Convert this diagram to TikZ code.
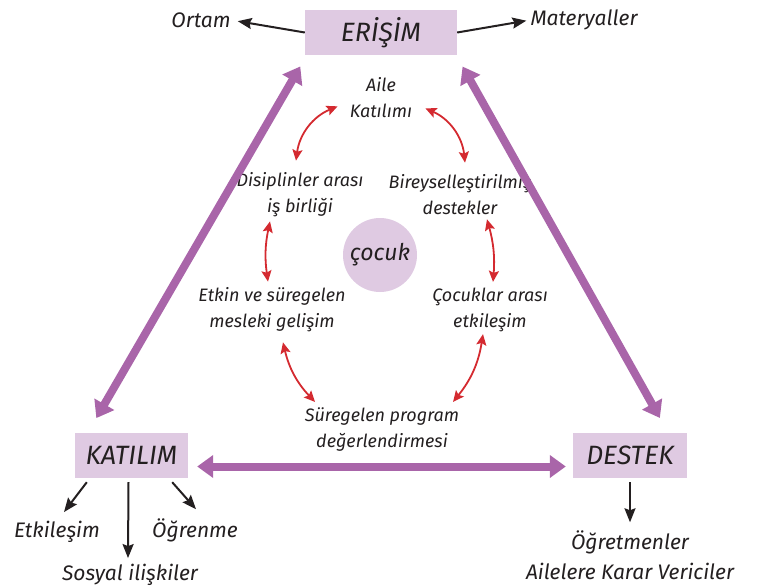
\documentclass[tikz,border=0pt]{standalone}
\usepackage{fontspec}
\setmainfont{Fira Sans}
\usetikzlibrary{arrows.meta}
\definecolor{boxfill}{HTML}{DFCAE2}
\definecolor{purline}{HTML}{A965A9}
\definecolor{redline}{HTML}{D42A30}
\definecolor{inktext}{HTML}{231F20}
\tikzset{
  box/.style={fill=boxfill, minimum height=45pt, inner sep=0pt, font=\fontsize{26.5}{30}\selectfont\itshape},
  txt/.style={inner sep=0pt, align=center, font=\fontsize{18}{26}\selectfont\itshape},
  lbl/.style={inner sep=0pt, align=center, font=\fontsize{21}{30}\selectfont\itshape},
  purarr/.style={purline, line width=8pt, {Triangle[length=16pt,width=22pt]}-{Triangle[length=16pt,width=22pt]}},
  redarr/.style={redline, line width=1.8pt, {Stealth[length=11pt,width=10pt,inset=2pt]}-{Stealth[length=11pt,width=10pt,inset=2pt]}},
  blkarr/.style={inktext, line width=2pt, -{Stealth[length=14pt,width=11pt,inset=2pt]}}
}
\begin{document}
\begin{tikzpicture}[x=1pt, y=-1pt, text=inktext]
  \useasboundingbox (0,0) rectangle (758,587);
  % main boxes
  \node[box, minimum width=152pt] (erisim) at (381,32.5) {ERİŞİM};
  \node[box, minimum width=113pt] (katilim) at (131.5,455.5) {KATILIM};
  \node[box, minimum width=114pt] (destek) at (630,455.5) {DESTEK};
  \node[circle, fill=boxfill, minimum size=74pt, inner sep=0pt, font=\fontsize{23}{26}\selectfont\itshape] (cocuk) at (380,255) {çocuk};
  % outer labels
  \node[lbl] (ortam) at (201,20) {Ortam};
  \node[lbl] (materyal) at (584,20) {Materyaller};
  \node[lbl] (etkilesim) at (57,532) {Etkileşim};
  \node[lbl] (sosyal) at (130,575) {Sosyal ilişkiler};
  \node[lbl] (ogrenme) at (195,530) {Öğrenme};
  \node[lbl] (ogretmen) at (630,555) {Öğretmenler\\Ailelere Karar Vericiler};
  % inner ring
  \node[txt] (aile) at (381,98) {Aile\\Katılımı};
  \node[txt] (disip) at (300,195) {Disiplinler arası\\iş birliği};
  \node[txt] (birey) at (460,195) {Bireyselleştirilmiş\\destekler};
  \node[txt] (etkin) at (272,310) {Etkin ve süregelen\\mesleki gelişim};
  \node[txt] (cocuklar) at (490,310) {Çocuklar arası\\etkileşim};
  \node[txt] (surege) at (382,430) {Süregelen program\\değerlendirmesi};
  % triangle
  \draw[purarr, shorten <=13pt, shorten >=17pt] ([xshift=2pt]erisim.south west) -- ([xshift=13pt]katilim.north west);
  \draw[purarr, shorten <=13pt, shorten >=17pt] ([xshift=-1pt]erisim.south east) -- ([xshift=-19pt]destek.north east);
  \draw[purarr, shorten <=9pt, shorten >=7pt] ([yshift=-11pt]katilim.east) -- ([yshift=-11pt]destek.west);
  % red links
  \draw[redarr] ([shift={(-12pt,12pt)}]aile.south west) to[bend right=30] ([shift={(-4pt,12pt)}]disip.north);
  \draw[redarr] ([shift={(13pt,10pt)}]aile.south east) to[bend left=30] ([shift={(5pt,12pt)}]birey.north);
  \draw[redarr] ([shift={(-30pt,-4pt)}]disip.south) to[bend right=10] ([shift={(-4pt,6pt)}]etkin.north);
  \draw[redarr] ([shift={(27pt,-4pt)}]birey.south) to[bend left=10] ([shift={(3pt,6pt)}]cocuklar.north);
  \draw[redarr] ([shift={(11pt,-10pt)}]etkin.south) to[bend right=15] ([shift={(-67pt,6pt)}]surege.north);
  \draw[redarr] ([shift={(-7pt,-2pt)}]cocuklar.south) to[bend left=15] ([shift={(71pt,6pt)}]surege.north);
  % black outputs
  \draw[blkarr, shorten >=7pt] (erisim.west) -- (ortam.east);
  \draw[blkarr, shorten >=4pt] (erisim.east) -- (materyal.west);
  \draw[blkarr] ([shift={(12pt,-4pt)}]katilim.south west) -- ([shift={(7pt,9pt)}]etkilesim.north);
  \draw[blkarr] ([shift={(-3pt,-4pt)}]katilim.south) -- ([shift={(-2pt,6pt)}]sosyal.north);
  \draw[blkarr] ([shift={(-16pt,-4pt)}]katilim.south east) -- ([shift={(1pt,9pt)}]ogrenme.north);
  \draw[blkarr] ([yshift=-4pt]destek.south) -- ([yshift=8pt]ogretmen.north);
\end{tikzpicture}
\end{document}
